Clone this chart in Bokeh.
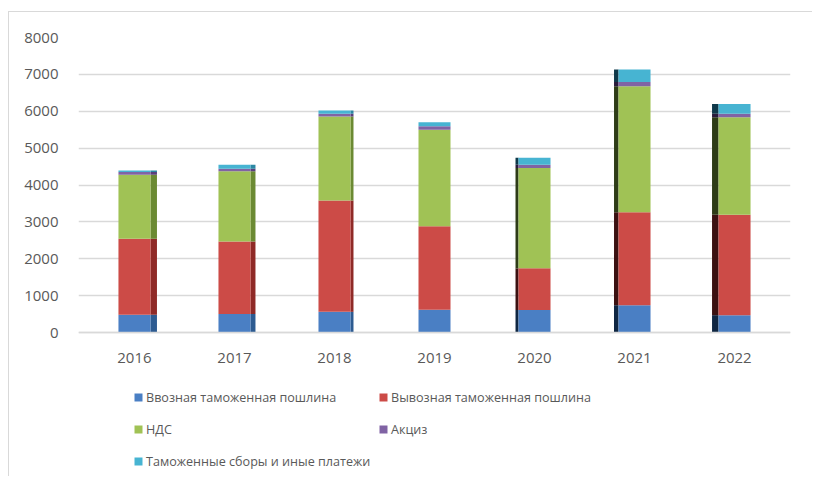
from bokeh.plotting import figure
from bokeh.models import FactorRange, Legend, LegendItem, ColumnDataSource, FixedTicker, Range1d
from bokeh.embed import file_html
from bokeh.resources import INLINE

years = ["2016", "2017", "2018", "2019", "2020", "2021", "2022"]
import_duty = [480, 500, 560, 620, 610, 740, 470]
export_duty = [2060, 1970, 3020, 2260, 1130, 2520, 2720]
vat = [1740, 1905, 2280, 2620, 2720, 3420, 2650]
excise = [70, 65, 70, 90, 90, 110, 90]
fees = [40, 110, 90, 110, 190, 340, 270]

series_names = ["Ввозная таможенная пошлина", "Вывозная таможенная пошлина",
                "НДС", "Акциз", "Таможенные сборы и иные платежи"]
keys = ["import_duty", "export_duty", "vat", "excise", "fees"]
colors = ["#4a7fc4", "#cc4b47", "#a0c255", "#8063a4", "#47b4d2"]
right_side_colors = ["#2d5b91", "#8f2a27", "#6b8a33", "#5a3f7c", "#2b87a3"]
left_side_colors = ["#0f2642", "#3b1111", "#2e3c17", "#2a1b3c", "#10394a"]
y_ticks = [0, 1000, 2000, 3000, 4000, 5000, 6000, 7000, 8000]

# pseudo-3D extrusion (style): side face direction and thickness per bar
side_dir = [1, 1, 1, 0, -1, -1, -1]
side_depth = [0.065, 0.05, 0.03, 0.0, 0.03, 0.045, 0.065]
BAR_W = 0.32

data = dict(years=years, import_duty=import_duty, export_duty=export_duty,
            vat=vat, excise=excise, fees=fees)
source = ColumnDataSource(data)


def side_source(direction):
    idx = [i for i, d in enumerate(side_dir) if d == direction]
    d = {k: [data[k][i] for i in idx] for k in keys}
    d["x"] = [(years[i], direction * (BAR_W / 2 + side_depth[i] / 2)) for i in idx]
    d["w"] = [side_depth[i] for i in idx]
    return ColumnDataSource(d)


FONT = "Open Sans"
TXT = "#595959"

# layout: frame spans from 295 px above the zero line to 145 px below it
PX_ABOVE, PX_BELOW = 295, 145
y_top = 8000
y_bottom = -y_top * PX_BELOW / PX_ABOVE

p = figure(x_range=FactorRange(*years, range_padding=0.017),
           y_range=Range1d(y_bottom, y_top),
           width=804, height=465, output_backend="svg", toolbar_location=None,
           min_border_left=69, min_border_right=23, min_border_top=25, min_border_bottom=0)
p.styles = {"margin-left": "8px", "margin-top": "11px",
            "border-left": "1px solid #d9d9d9", "border-top": "1px solid #d9d9d9"}
p.outline_line_color = None
p.background_fill_color = "white"

p.vbar_stack(keys, x="x", width="w", color=right_side_colors, source=side_source(1),
             line_color=None)
p.vbar_stack(keys, x="x", width="w", color=left_side_colors, source=side_source(-1),
             line_color=None)
renderers = p.vbar_stack(keys, x="years", width=BAR_W, color=colors, source=source,
                         line_color=None)

p.yaxis.ticker = FixedTicker(ticks=y_ticks)
p.yaxis.axis_line_color = None
p.yaxis.major_tick_line_color = None
p.yaxis.minor_tick_line_color = None
p.yaxis.major_label_standoff = 14
p.yaxis.major_label_text_font = FONT
p.yaxis.major_label_text_font_size = "15px"
p.yaxis.major_label_text_color = TXT

p.xaxis.fixed_location = 0
p.xaxis.axis_line_color = "#d9d9d9"
p.xaxis.axis_line_width = 1.5
p.xaxis.major_tick_line_color = None
p.xaxis.minor_tick_line_color = None
p.xaxis.major_label_standoff = 14
p.xaxis.major_label_text_font = FONT
p.xaxis.major_label_text_font_size = "15px"
p.xaxis.major_label_text_color = TXT

p.xgrid.grid_line_color = None
p.ygrid.grid_line_color = "#d9d9d9"
p.ygrid.grid_line_width = 1.5


def make_legend(idx, loc):
    lg = Legend(items=[LegendItem(label=series_names[i], renderers=[renderers[i]]) for i in idx],
                location=loc, orientation="vertical")
    lg.glyph_width = 10
    lg.glyph_height = 10
    lg.label_height = 20
    lg.spacing = 12
    lg.padding = 0
    lg.margin = 0
    lg.label_standoff = 3
    lg.border_line_color = None
    lg.background_fill_alpha = 0
    lg.label_text_font = FONT
    lg.label_text_font_size = "12.6px"
    lg.label_text_color = TXT
    return lg


p.add_layout(make_legend([0, 2, 4], (55, 6)))
p.add_layout(make_legend([1, 3], (300, 38)))

open("out.html", "w").write(file_html(p, INLINE))
